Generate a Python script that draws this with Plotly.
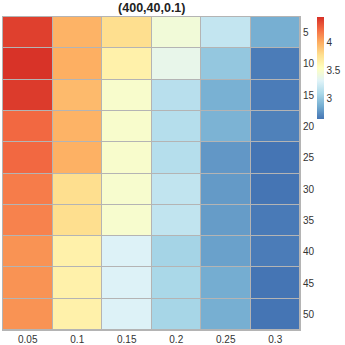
import plotly.graph_objects as go

# column / row categories
alphas = ["0.05", "0.1", "0.15", "0.2", "0.25", "0.3"]
ks = ["5", "10", "15", "20", "25", "30", "35", "40", "45", "50"]

# values, one list per row (k)
z_rows = [
    [4.40, 3.98, 3.78, 3.45, 3.20, 2.88],
    [4.45, 4.00, 3.65, 3.38, 3.00, 2.67],
    [4.42, 3.95, 3.50, 3.15, 2.89, 2.67],
    [4.25, 3.98, 3.50, 3.14, 2.90, 2.69],
    [4.25, 3.99, 3.50, 3.14, 2.78, 2.64],
    [4.18, 3.78, 3.49, 3.19, 2.79, 2.64],
    [4.16, 3.78, 3.49, 3.19, 2.80, 2.66],
    [4.10, 3.65, 3.31, 3.07, 2.82, 2.67],
    [4.10, 3.65, 3.31, 3.09, 2.87, 2.64],
    [4.10, 3.65, 3.31, 3.08, 2.88, 2.64],
]
cb_ticks = [3, 3.5, 4]

rdylbu = ["#4575b4", "#74add1", "#abd9e9", "#e0f3f8", "#ffffbf",
          "#fee090", "#fdae61", "#f46d43", "#d73027"]
cscale = [[i / (len(rdylbu) - 1), c] for i, c in enumerate(rdylbu)]

fig = go.Figure(go.Heatmap(
    x=alphas, y=ks, z=z_rows,
    colorscale=cscale, zmin=2.64, zmax=4.46,
    xgap=1, ygap=1,
    colorbar=dict(
        thickness=7, len=0.325, lenmode="fraction",
        y=1, yanchor="top", x=1.057, xanchor="left", xpad=0, ypad=0,
        outlinewidth=0, tickvals=cb_ticks, ticktext=["3", "3.5", "4"],
        ticks="", tickfont=dict(size=10, color="#333333"),
    ),
))

fig.update_layout(
    width=345, height=345,
    margin=dict(l=3, r=45, t=17, b=15, autoexpand=False),
    plot_bgcolor="#b4b4b4", paper_bgcolor="white",
    font=dict(family="Liberation Sans, Arial, sans-serif", size=10, color="#333333"),
    title=dict(text="<b>(400,40,0.1)</b>", x=0.44, xanchor="center",
               y=0.99, yanchor="top", font=dict(size=12.5, color="#222222")),
)
fig.update_xaxes(showgrid=False, zeroline=False, ticks="", ticklen=0, automargin=False,
                 tickfont=dict(size=10), linecolor="#b4b4b4", showline=True, mirror=True)
fig.update_yaxes(side="right", autorange="reversed", showgrid=False, zeroline=False,
                 ticks="", tickfont=dict(size=10), linecolor="#b4b4b4", automargin=False,
                 showline=True, mirror=True)

# the page's default body margin would shift the figure by 8px
fig.write_html("out.html", config={"displayModeBar": False},
               post_script="document.body.style.margin='0';")
